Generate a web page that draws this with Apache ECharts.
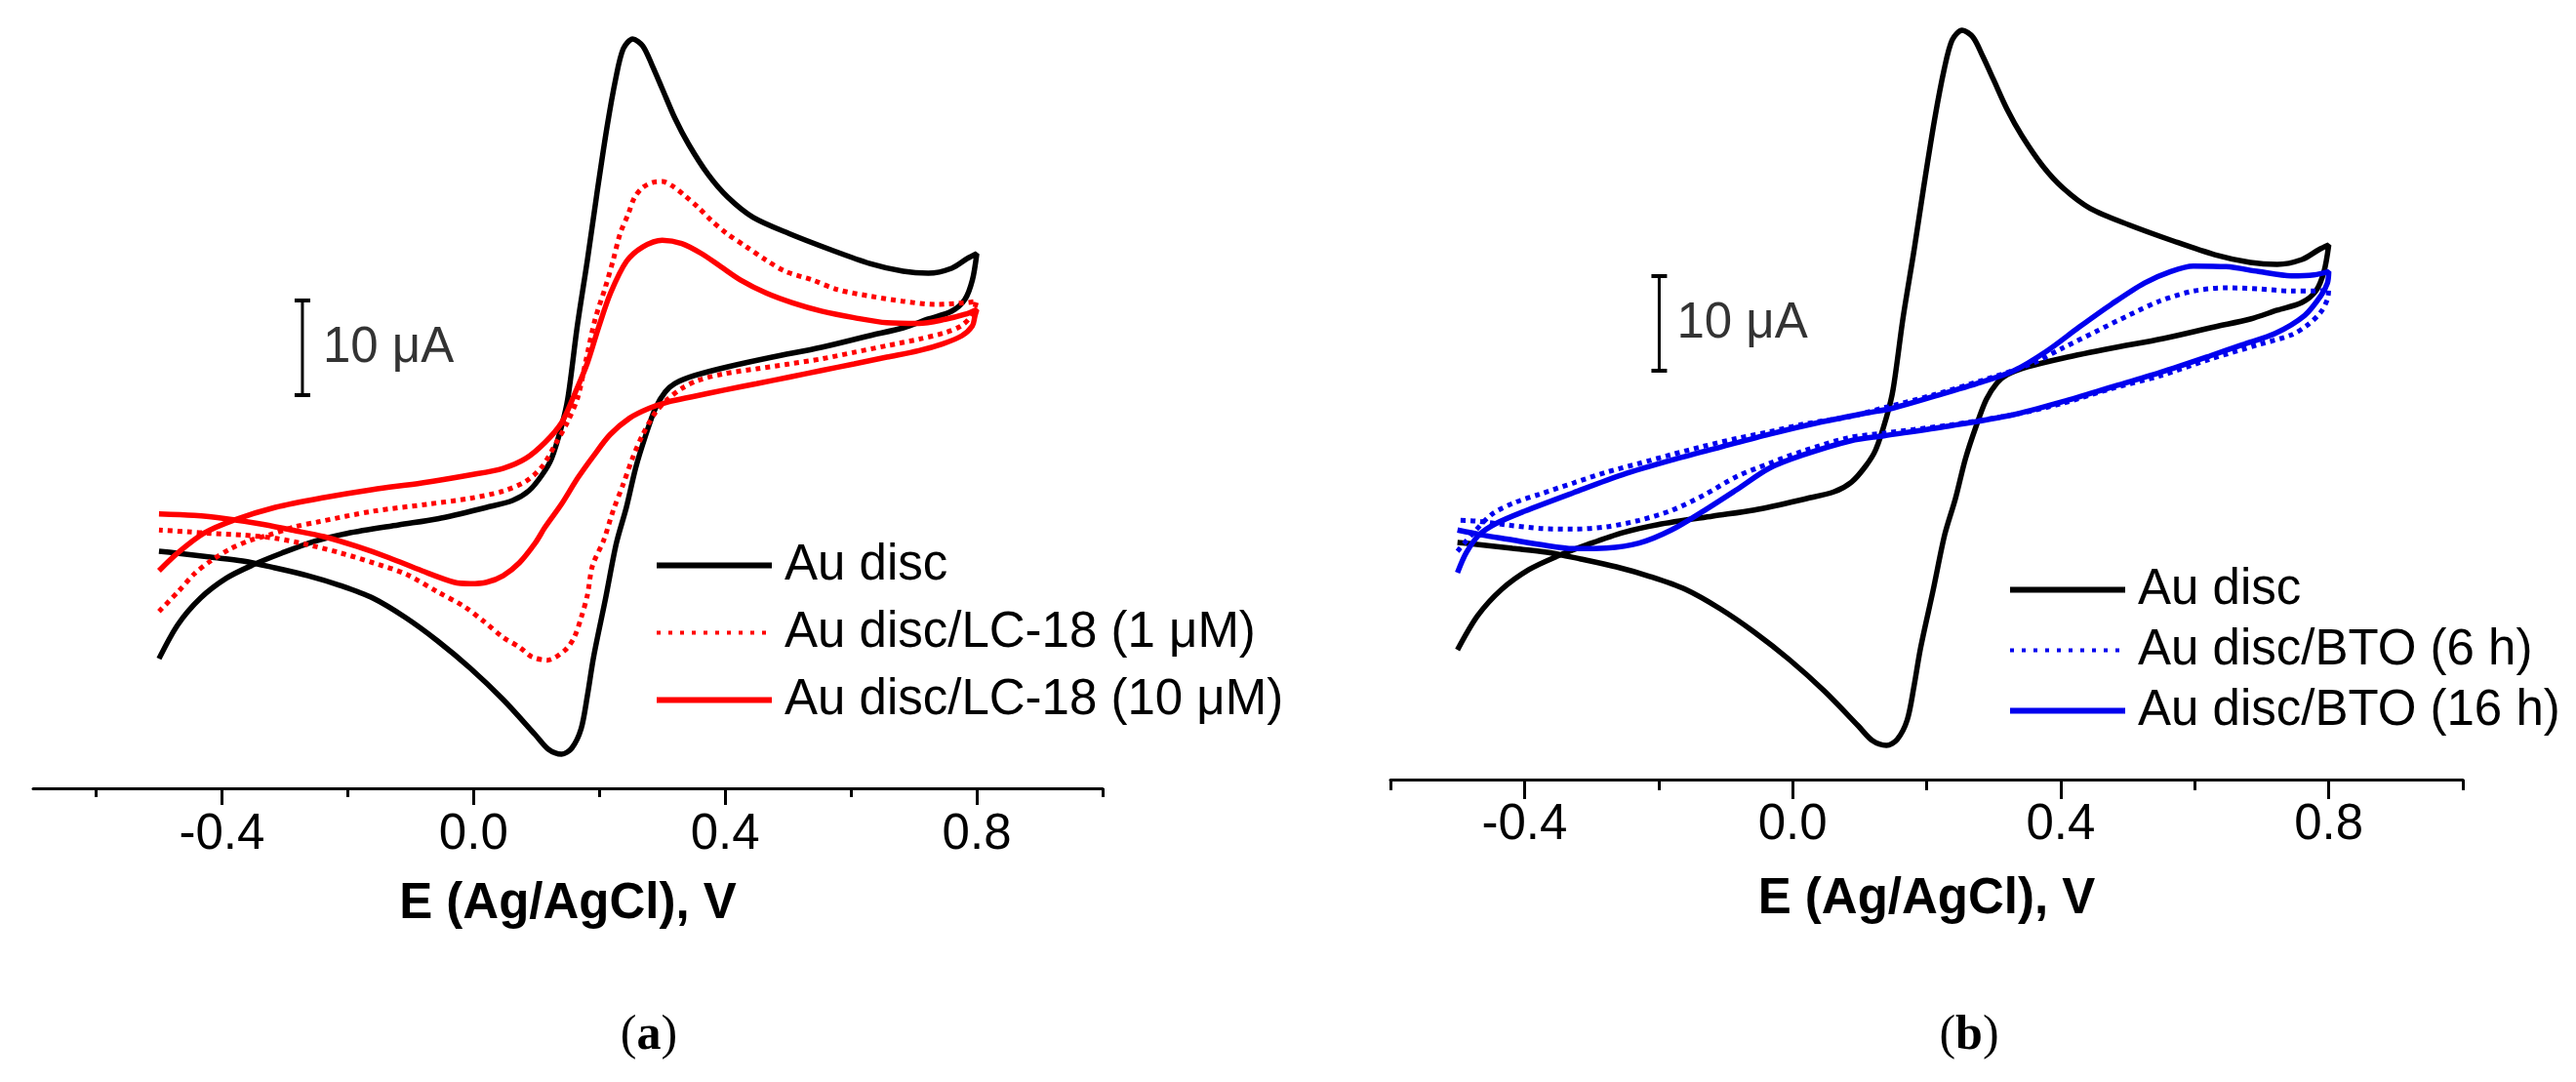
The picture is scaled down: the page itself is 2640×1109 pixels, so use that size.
<!DOCTYPE html>
<html>
<head>
<meta charset="utf-8">
<title>Cyclic voltammograms</title>
<script src="https://cdn.jsdelivr.net/npm/echarts@6/dist/echarts.min.js"></script>
<style>
html, body { margin: 0; padding: 0; background: #fff; }
#chart { width: 2640px; height: 1109px; }
</style>
</head>
<body>
<div id="chart"></div>
<script>
// E (V vs Ag/AgCl), I (uA) pairs
var auDisc = [
	[-0.50,-28.3],[-0.47,-24.7],[-0.434,-21.9],[-0.393,-19.8],[-0.351,-18.4],[-0.305,-17.15],[-0.253,-15.9],
	[-0.201,-15.06],[-0.119,-14.16],[-0.057,-13.52],[0.021,-12.31],[0.062,-11.59],[0.088,-10.56],[0.109,-8.88],
	[0.124,-7.15],[0.140,-3.72],[0.150,-0.76],[0.165,6.87],[0.181,13.82],[0.196,20.78],[0.212,27.79],[0.226,32.98],
	[0.238,36.14],[0.253,37.18],[0.269,36.45],[0.284,34.39],[0.300,31.92],[0.320,28.82],[0.342,26.04],[0.373,22.85],
	[0.404,20.47],[0.444,18.35],[0.502,16.61],[0.568,14.91],[0.630,13.46],[0.683,12.64],[0.723,12.43],[0.760,12.95],
	[0.785,13.98],[0.800,14.49],
	[0.793,11.71],[0.781,9.65],[0.760,8.41],[0.723,7.59],[0.683,6.66],[0.630,5.84],[0.553,4.60],[0.475,3.57],
	[0.404,2.54],[0.351,1.61],[0.320,0.78],[0.305,-0.10],[0.289,-1.85],[0.274,-4.63],[0.258,-8.08],[0.243,-12.31],
	[0.227,-16.12],[0.210,-21.90],[0.191,-28.08],[0.181,-32.21],[0.171,-35.71],[0.156,-37.77],[0.140,-38.39],
	[0.119,-37.88],[0.098,-36.33],[0.047,-32.62],[-0.005,-29.32],[-0.057,-26.43],[-0.108,-23.96],[-0.160,-21.90],
	[-0.212,-20.56],[-0.263,-19.53],[-0.316,-18.70],[-0.367,-17.98],[-0.418,-17.57],[-0.471,-17.15],[-0.50,-16.95]
];
var lc18_1uM = [
	[-0.50,-23.31],[-0.47,-21.25],[-0.444,-19.35],[-0.418,-17.98],[-0.387,-16.71],[-0.356,-15.82],[-0.325,-15.23],
	[-0.284,-14.37],[-0.248,-13.86],[-0.160,-12.72],[-0.072,-11.97],[-0.005,-11.35],[0.047,-10.59],[0.083,-9.56],
	[0.109,-8.01],[0.129,-5.78],[0.150,-3.21],[0.166,-0.63],[0.178,3.0],[0.193,7.5],[0.210,11.04],[0.222,13.82],
	[0.233,16.61],[0.246,18.70],[0.256,20.44],[0.269,21.48],[0.284,22.01],[0.300,22.12],[0.316,21.66],[0.336,20.62],
	[0.357,19.40],[0.378,18.00],[0.403,16.61],[0.434,15.21],[0.465,13.82],[0.496,12.61],[0.538,11.73],[0.579,10.69],
	[0.631,10.00],[0.682,9.47],[0.734,9.13],[0.781,9.30],[0.80,9.47],
	[0.791,7.91],[0.775,6.86],[0.750,6.16],[0.708,5.46],[0.657,4.77],[0.605,4.07],[0.553,3.38],[0.502,2.85],
	[0.450,2.33],[0.398,1.81],[0.357,1.11],[0.331,0.25],[0.310,-0.81],[0.290,-2.20],[0.269,-4.63],[0.253,-7.07],
	[0.238,-9.86],[0.222,-12.64],[0.207,-15.77],[0.189,-18.50],[0.181,-21.59],[0.171,-23.99],[0.160,-26.05],
	[0.145,-27.43],[0.117,-28.46],[0.093,-28.11],[0.073,-27.08],[0.047,-26.05],[0.016,-24.34],[-0.015,-22.79],
	[-0.057,-21.25],[-0.108,-19.35],[-0.160,-18.16],[-0.212,-17.12],[-0.263,-16.26],[-0.315,-15.58],[-0.367,-15.23],
	[-0.418,-15.06],[-0.455,-14.89],[-0.50,-14.71]
];
var lc18_10uM = [
	[-0.50,-19.01],[-0.47,-17.12],[-0.429,-15.06],[-0.382,-13.68],[-0.315,-12.31],[-0.238,-11.28],[-0.160,-10.42],
	[-0.082,-9.73],[-0.005,-8.88],[0.047,-8.19],[0.083,-7.15],[0.114,-5.43],[0.140,-3.37],[0.160,-0.45],[0.181,2.95],
	[0.199,6.76],[0.218,10.37],[0.243,13.67],[0.269,15.21],[0.300,15.92],[0.331,15.57],[0.362,14.52],[0.393,13.13],
	[0.424,11.73],[0.465,10.34],[0.507,9.30],[0.553,8.42],[0.605,7.73],[0.657,7.20],[0.708,7.13],[0.750,7.56],
	[0.781,8.08],[0.80,8.60],
	[0.797,7.9],[0.793,6.86],[0.776,5.81],[0.745,4.95],[0.708,4.25],[0.657,3.56],[0.605,2.85],[0.553,2.15],
	[0.502,1.46],[0.450,0.76],[0.398,0.07],[0.347,-0.63],[0.310,-1.16],[0.279,-1.85],[0.248,-2.89],[0.217,-4.63],
	[0.191,-6.85],[0.166,-9.17],[0.140,-11.95],[0.114,-14.38],[0.098,-16.09],[0.073,-18.16],[0.047,-19.53],
	[0.021,-20.22],[-0.005,-20.38],[-0.031,-20.22],[-0.082,-19.01],[-0.134,-17.64],[-0.186,-16.43],[-0.238,-15.40],
	[-0.289,-14.71],[-0.341,-14.03],[-0.393,-13.52],[-0.444,-13.17],[-0.50,-13.00]
];
var bto6h = [
	[-0.50,-17.88],[-0.477,-15.99],[-0.448,-13.93],[-0.414,-12.72],[-0.375,-11.79],[-0.327,-10.66],[-0.278,-9.53],
	[-0.229,-8.60],[-0.181,-7.67],[-0.132,-6.77],[-0.083,-5.95],[-0.035,-5.27],[0.014,-4.48],[0.087,-3.62],
	[0.136,-2.72],[0.209,-1.38],[0.282,0.16],[0.355,1.89],[0.403,3.60],[0.452,5.32],[0.501,7.04],[0.549,8.59],
	[0.598,9.62],[0.647,9.96],[0.695,9.85],[0.744,9.62],[0.783,9.62],[0.80,9.78],
	[0.798,8.75],[0.788,7.38],[0.768,6.01],[0.744,4.98],[0.695,3.95],[0.622,2.40],[0.549,0.68],[0.476,-0.69],
	[0.403,-2.24],[0.330,-3.44],[0.233,-4.55],[0.136,-5.4],[0.082,-5.9],[0.014,-7.33],[-0.035,-8.60],[-0.083,-9.97],
	[-0.132,-11.93],[-0.181,-13.58],[-0.229,-14.61],[-0.278,-15.30],[-0.327,-15.54],[-0.375,-15.47],[-0.424,-15.12],
	[-0.473,-14.68],[-0.50,-14.61]
];
var bto16h = [
	[-0.50,-20.14],[-0.487,-18.05],[-0.468,-16.16],[-0.443,-14.96],[-0.400,-13.65],[-0.327,-11.69],[-0.254,-9.80],
	[-0.181,-8.26],[-0.108,-6.88],[-0.035,-5.51],[0.038,-4.30],[0.111,-3.27],[0.150,-2.75],[0.209,-1.56],
	[0.282,-0.01],[0.330,1.19],[0.379,3.26],[0.428,5.83],[0.476,8.24],[0.525,10.47],[0.564,11.68],[0.598,12.26],
	[0.647,12.19],[0.695,11.68],[0.744,11.23],[0.778,11.33],[0.80,11.68],
	[0.798,10.47],[0.788,9.10],[0.764,7.04],[0.720,5.14],[0.671,3.95],[0.622,2.74],[0.549,1.02],[0.476,-0.53],
	[0.403,-2.07],[0.330,-3.44],[0.233,-4.65],[0.136,-5.68],[0.087,-6.20],[0.014,-7.74],[-0.035,-9.11],
	[-0.083,-11.35],[-0.132,-13.58],[-0.181,-15.64],[-0.229,-17.02],[-0.278,-17.54],[-0.327,-17.60],[-0.375,-17.19],
	[-0.424,-16.61],[-0.463,-16.16],[-0.50,-15.64]
];
var majorTicks = [-0.4, 0.0, 0.4, 0.8];
var minorTicks = [-0.6, -0.2, 0.2, 0.6, 1.0];
var legendA = ['Au disc', 'Au disc/LC-18 (1 μM)', 'Au disc/LC-18 (10 μM)'];
var legendB = ['Au disc', 'Au disc/BTO (6 h)', 'Au disc/BTO (16 h)'];
// 10 uA scale bars: [E, I bottom], [E, I top]
var scaleBarA = [[-0.272, -0.45], [-0.272, 9.55]];
var scaleBarB = [[-0.199, 1.2], [-0.199, 11.2]];
var scaleText = '10 μA';

var FONT = "'Liberation Sans', Arial, sans-serif";

function majorAxis(grid, min, max, tickLen, margin, gap) {
	return {
		type: 'value', gridIndex: grid, position: 'bottom', min: min, max: max,
		axisLine: { show: true, onZero: false, lineStyle: { color: '#000', width: 3 } },
		axisTick: { show: true, length: tickLen, customValues: majorTicks, lineStyle: { color: '#000', width: 3 } },
		axisLabel: {
			customValues: majorTicks, margin: margin, fontSize: 51, color: '#000', fontFamily: FONT,
			formatter: function(v) { return v.toFixed(1); }
		},
		splitLine: { show: false },
		name: 'E (Ag/AgCl), V', nameLocation: 'middle', nameGap: gap,
		nameTextStyle: { fontSize: 51, fontWeight: 'bold', color: '#000', fontFamily: FONT }
	};
}
function minorAxis(grid, min, max, tickLen) {
	return {
		type: 'value', gridIndex: grid, position: 'bottom', min: min, max: max,
		axisLine: { show: false, onZero: false },
		axisTick: { show: true, length: tickLen, customValues: minorTicks, lineStyle: { color: '#000', width: 3 } },
		axisLabel: { show: false },
		splitLine: { show: false }
	};
}
function curve(name, data, xi, yi, color, dotted) {
	return {
		name: name, type: 'line', data: data, xAxisIndex: xi, yAxisIndex: yi,
		showSymbol: false, symbol: 'none', smooth: 0.3,
		lineStyle: { color: color, width: dotted ? 5 : 5.5, type: dotted ? [5, 5] : 'solid' },
		itemStyle: { color: color }
	};
}
function scaleBar(data, xi, yi, dist) {
	return [{
		type: 'line', data: data, xAxisIndex: xi, yAxisIndex: yi,
		symbol: 'rect', symbolSize: [16, 4], lineStyle: { color: '#000', width: 3 },
		itemStyle: { color: '#000' }
	}, {
		type: 'scatter', xAxisIndex: xi, yAxisIndex: yi, symbolSize: 0,
		data: [[data[0][0], (data[0][1] + data[1][1]) / 2]],
		label: {
			show: true, position: 'right', distance: dist, formatter: scaleText,
			fontSize: 51, color: '#000', fontFamily: FONT
		}
	}];
}
function legendItems(names) {
	// dotted entries get a finer dash, as in the original key
	return names.map(function(n) {
		if (n.indexOf('(1 μM)') > 0 || n.indexOf('(6 h)') > 0) {
			return { name: n, lineStyle: { width: 4, type: [4, 8] } };
		}
		return { name: n };
	});
}

var chart = echarts.init(document.getElementById('chart'));
var legendCommon = {
	orient: 'vertical', itemWidth: 118, itemHeight: 20, selectedMode: false,
	textStyle: { fontSize: 51, color: '#000', fontFamily: FONT, padding: [0, 0, 0, 8] },
	itemStyle: { opacity: 0 },
	lineStyle: { width: 6 }
};
var option = {
	animation: false,
	backgroundColor: '#fff',
	grid: [
		{ left: 34, width: 1096, top: 12.6, bottom: 301, outerBoundsMode: 'none' },
		{ left: 1425, width: 1099, top: 3.6, bottom: 310, outerBoundsMode: 'none' }
	],
	xAxis: [
		majorAxis(0, -0.7, 1.0, 17, 22, 93),
		minorAxis(0, -0.7, 1.0, 9),
		majorAxis(1, -0.6, 1.0, 20, 21, 97),
		minorAxis(1, -0.6, 1.0, 11)
	],
	yAxis: [
		{ type: 'value', gridIndex: 0, min: -42, max: 40, show: false },
		{ type: 'value', gridIndex: 1, min: -42, max: 40, show: false }
	],
	legend: [
		echarts.util.merge({ data: legendItems(legendA), left: 665, top: 549, itemGap: 18 }, legendCommon),
		echarts.util.merge({ data: legendItems(legendB), left: 2052, top: 574, itemGap: 11 }, legendCommon)
	],
	graphic: [
		{ type: 'text', x: 665, y: 1062, style: { text: '{p|(}{b|a}{p|)}', align: 'center', verticalAlign: 'middle',
			rich: { p: { fontSize: 50, fontFamily: 'Liberation Serif', fill: '#000' },
				b: { fontSize: 50, fontFamily: 'Liberation Serif', fontWeight: 'bold', fill: '#000' } } } },
		{ type: 'text', x: 2018, y: 1062, style: { text: '{p|(}{b|b}{p|)}', align: 'center', verticalAlign: 'middle',
			rich: { p: { fontSize: 50, fontFamily: 'Liberation Serif', fill: '#000' },
				b: { fontSize: 50, fontFamily: 'Liberation Serif', fontWeight: 'bold', fill: '#000' } } } }
	],
	series: [
		curve('Au disc', auDisc, 0, 0, '#000000', false),
		curve('Au disc/LC-18 (1 μM)', lc18_1uM, 0, 0, '#ff0000', true),
		curve('Au disc/LC-18 (10 μM)', lc18_10uM, 0, 0, '#ff0000', false),
		curve('Au disc', auDisc, 2, 1, '#000000', false),
		curve('Au disc/BTO (6 h)', bto6h, 2, 1, '#0000ee', true),
		curve('Au disc/BTO (16 h)', bto16h, 2, 1, '#0000ee', false)
	].concat(scaleBar(scaleBarA, 0, 0, 21), scaleBar(scaleBarB, 2, 1, 18))
};
chart.setOption(option);
</script>
</body>
</html>
